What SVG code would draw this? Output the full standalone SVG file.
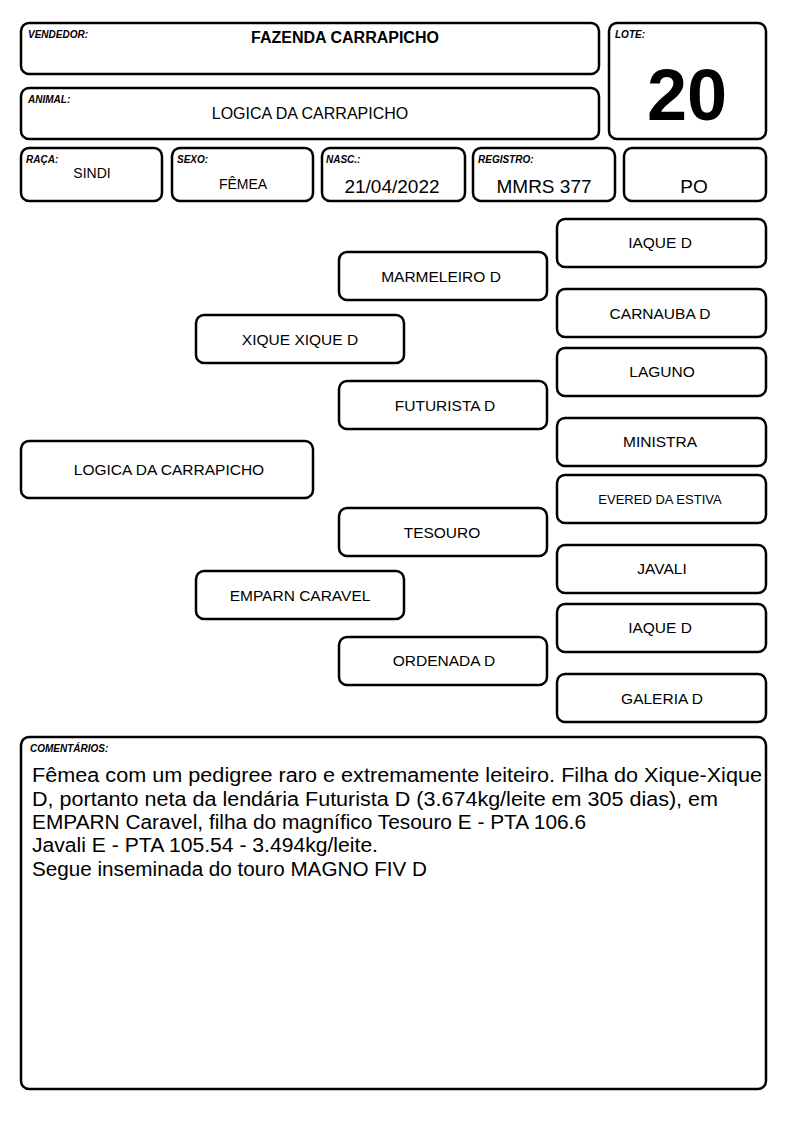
<svg xmlns="http://www.w3.org/2000/svg" width="794" height="1123" viewBox="0 0 794 1123">
<style>
rect.b{fill:#fff;stroke:#000;stroke-width:2.5}
text{font-family:"Liberation Sans",Arial,sans-serif;fill:#000}
.lbl{font-size:10px;font-weight:bold;font-style:italic}
.n{font-size:15.5px;text-anchor:middle}
.c{font-size:20px}
</style>
<rect width="794" height="1123" fill="#fff"/>
<g id="vendedor"><rect class="b" x="21" y="23" width="578" height="51" rx="8"/><text class="lbl" x="28" y="38">VENDEDOR:</text><text x="345" y="43" font-size="16" font-weight="bold" text-anchor="middle">FAZENDA CARRAPICHO</text></g>
<g id="lote"><rect class="b" x="609" y="23" width="157" height="116" rx="8"/><text class="lbl" x="615" y="38">LOTE:</text><text x="687" y="120" font-size="72" font-weight="bold" text-anchor="middle">20</text></g>
<g id="animal"><rect class="b" x="21" y="88" width="578" height="51" rx="8"/><text class="lbl" x="28" y="103">ANIMAL:</text><text x="310" y="119" font-size="16" text-anchor="middle">LOGICA DA CARRAPICHO</text></g>
<g id="raca"><rect class="b" x="21" y="148" width="141" height="53" rx="8"/><text class="lbl" x="26" y="163">RAÇA:</text><text x="92" y="178" font-size="14" text-anchor="middle">SINDI</text></g>
<g id="sexo"><rect class="b" x="172" y="148" width="141" height="53" rx="8"/><text class="lbl" x="177" y="163">SEXO:</text><text x="243" y="189" font-size="14" text-anchor="middle">FÊMEA</text></g>
<g id="nasc"><rect class="b" x="322" y="148" width="143" height="53" rx="8"/><text class="lbl" x="326" y="163">NASC.:</text><text x="392" y="193" font-size="19" text-anchor="middle">21/04/2022</text></g>
<g id="registro"><rect class="b" x="473" y="148" width="142" height="53" rx="8"/><text class="lbl" x="478" y="163">REGISTRO:</text><text x="544" y="193" font-size="19" text-anchor="middle">MMRS 377</text></g>
<g id="po"><rect class="b" x="624" y="148" width="142" height="53" rx="8"/><text x="694" y="193" font-size="19" text-anchor="middle">PO</text></g>

<g id="p0"><rect class="b" x="21" y="441" width="292" height="57" rx="8"/><text class="n" x="169" y="475">LOGICA DA CARRAPICHO</text></g>
<g id="p1"><rect class="b" x="196" y="315" width="208" height="48" rx="8"/><text class="n" x="300" y="345">XIQUE XIQUE D</text></g>
<g id="p2"><rect class="b" x="196" y="571" width="208" height="48" rx="8"/><text class="n" x="300" y="601">EMPARN CARAVEL</text></g>
<g id="p3"><rect class="b" x="339" y="252" width="208" height="48" rx="8"/><text class="n" x="441" y="282">MARMELEIRO D</text></g>
<g id="p4"><rect class="b" x="339" y="381" width="208" height="48" rx="8"/><text class="n" x="445" y="411">FUTURISTA D</text></g>
<g id="p5"><rect class="b" x="339" y="508" width="208" height="48" rx="8"/><text class="n" x="442" y="538">TESOURO</text></g>
<g id="p6"><rect class="b" x="339" y="637" width="208" height="48" rx="8"/><text class="n" x="444" y="666">ORDENADA D</text></g>
<g id="p7"><rect class="b" x="557" y="219" width="209" height="48" rx="8"/><text class="n" x="660" y="248">IAQUE D</text></g>
<g id="p8"><rect class="b" x="557" y="289" width="209" height="48" rx="8"/><text class="n" x="660" y="319">CARNAUBA D</text></g>
<g id="p9"><rect class="b" x="557" y="348" width="209" height="48" rx="8"/><text class="n" x="662" y="377">LAGUNO</text></g>
<g id="p10"><rect class="b" x="557" y="418" width="209" height="48" rx="8"/><text class="n" x="660" y="447">MINISTRA</text></g>
<g id="p11"><rect class="b" x="557" y="475" width="209" height="48" rx="8"/><text x="660" y="504" font-size="13" text-anchor="middle">EVERED DA ESTIVA</text></g>
<g id="p12"><rect class="b" x="557" y="545" width="209" height="48" rx="8"/><text class="n" x="662" y="574">JAVALI</text></g>
<g id="p13"><rect class="b" x="557" y="604" width="209" height="48" rx="8"/><text class="n" x="660" y="633">IAQUE D</text></g>
<g id="p14"><rect class="b" x="557" y="674" width="209" height="48" rx="8"/><text class="n" x="662" y="704">GALERIA D</text></g>

<g id="comentarios"><rect class="b" x="21" y="737" width="745" height="352" rx="8"/><text class="lbl" x="30" y="752">COMENTÁRIOS:</text>
<text class="c" x="32" y="782" textLength="730" lengthAdjust="spacingAndGlyphs">Fêmea com um pedigree raro e extremamente leiteiro. Filha do Xique-Xique</text>
<text class="c" x="32" y="806" textLength="686" lengthAdjust="spacingAndGlyphs">D, portanto neta da lendária Futurista D (3.674kg/leite em 305 dias), em</text>
<text class="c" x="32" y="829" textLength="554" lengthAdjust="spacingAndGlyphs">EMPARN Caravel, filha do magnífico Tesouro E - PTA 106.6</text>
<text class="c" x="32" y="852" textLength="346" lengthAdjust="spacingAndGlyphs">Javali E - PTA 105.54 - 3.494kg/leite.</text>
<text class="c" x="32" y="876" textLength="395" lengthAdjust="spacingAndGlyphs">Segue inseminada do touro MAGNO FIV D</text>
</g>
</svg>
